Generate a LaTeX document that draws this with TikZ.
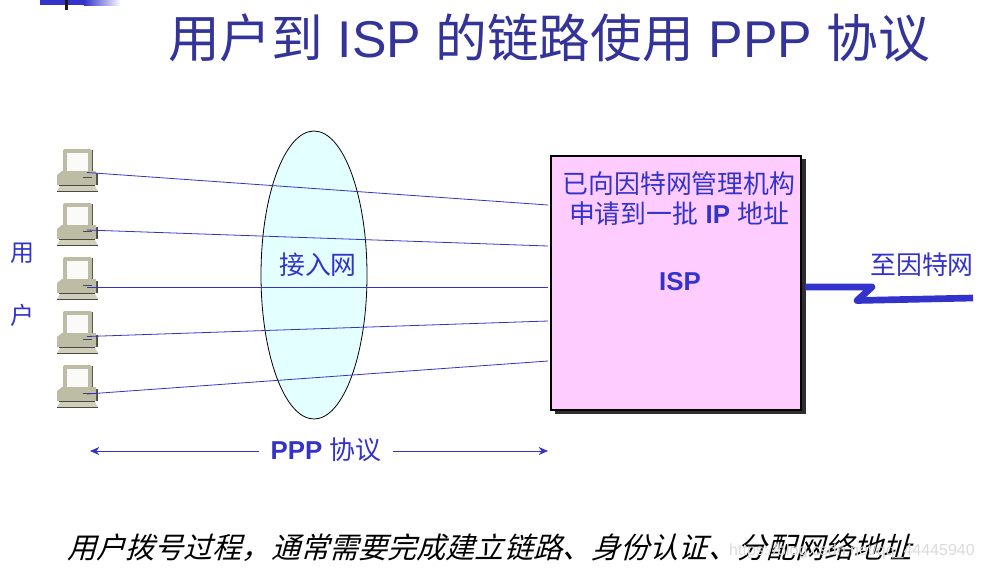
\documentclass[tikz,border=0pt]{standalone}
\usepackage{fontspec}
\setmainfont{Liberation Sans}
\newfontfamily\cjk{Noto Sans CJK SC}
\newfontfamily\cjkslant[FakeSlant=0.28]{Noto Sans CJK SC}
\usetikzlibrary{arrows.meta,shapes.geometric}
\definecolor{titleblue}{HTML}{333399}
\definecolor{labelblue}{HTML}{3333CC}
\definecolor{netcyan}{HTML}{E3FFFF}
\definecolor{isppink}{HTML}{FFCCFF}
\definecolor{pcbody}{HTML}{BDBDA5}
\definecolor{pclight}{HTML}{CFCFBB}
\definecolor{pcdark}{HTML}{4A4A40}
\definecolor{shadowgray}{HTML}{2E2E2E}
\tikzset{
  titletext/.style={font=\fontsize{38.8}{38.8}\selectfont,text=titleblue,inner sep=0pt},
  labeltext/.style={font=\fontsize{19.4}{23}\selectfont,text=labelblue,inner sep=0pt,align=center},
  notetext/.style={font=\fontsize{21.85}{22}\selectfont\cjkslant,text=black,inner sep=0pt},
  markwater/.style={font=\fontsize{12}{12}\selectfont,text=black!14,inner sep=0pt,anchor=east},
  link/.style={draw=labelblue,line width=0.6pt},
  rangearrow/.style={draw=labelblue,line width=0.6pt,-{Stealth[length=7pt,width=6pt]}},
}
\newcommand{\zh}[1]{{\cjk #1}}
% icon with its top-left reference at (#1,#2), in pixels; #3 names its port, #4 its height
\newcommand{\pcicon}[4]{%
  \begin{scope}[shift={(#1,#2)}]
    \fill[pcdark] (34.5,2) rectangle (36,25);
    \fill[pcbody,rounded corners=1.5pt] (6,25) -- (6,1) -- (35,1) -- (35,25) -- cycle;
    \fill[white!92!pcbody] (9.5,5) rectangle (30.5,24);
    \fill[pcdark] (39,25) rectangle (40.5,37);
    \fill[pcbody] (0,37) -- (0,27) -- (5,23) -- (39,23) -- (39,37) -- cycle;
    \draw[pcdark,line width=0.6pt] (26,29) -- (35,29);
    \fill[pcdark] (2,37) rectangle (38,38);
    \fill[pclight] (0,43) -- (3,38) -- (38,38) -- (41,43) -- cycle;
    \fill[pcdark] (0,43) rectangle (41,44);
  \end{scope}
  \coordinate (#3) at (#1+30,#2+#4);}
\begin{document}
\begin{tikzpicture}[x=0.75pt,y=-0.75pt]
\useasboundingbox (0,0) rectangle (984,569);
\fill[white] (0,0) rectangle (984,569);
% corner ornament
\fill[labelblue] (40,0) rectangle (84,5);
\shade[left color=labelblue,right color=white] (84,0) rectangle (121,5);
\fill[black!90] (65,0) rectangle (68,10);
% title
\node[titletext] (title) at (549,38) {\zh{用户到} ISP \zh{的链路使用} PPP \zh{协议}};
% access network
\node[draw=black,line width=0.6pt,fill=netcyan,ellipse,inner sep=0pt,minimum width=79.5pt,minimum height=216pt] (net) at (314,275) {};
\node[labeltext] (netlabel) at (318,265) {\zh{接入网}};
% ISP box
\fill[shadowgray] (555,159) rectangle (805.5,414);
\node[draw=black,line width=2pt,fill=isppink,rectangle,inner sep=0pt,minimum width=187.5pt,minimum height=190.5pt] (isp) at (676,283) {};
\node[labeltext] (ispnote) at (679,198.5) {\zh{已向因特网管理机构}\\\zh{申请到一批} \textbf{IP} \zh{地址}};
\node[labeltext,font=\fontsize{19.4}{23}\selectfont\bfseries] (isplabel) at (680,282) {ISP};
% computers
\pcicon{57}{148}{pca}{24.5}
\pcicon{57}{202}{pcb}{28}
\pcicon{57}{256}{pcc}{31}
\pcicon{57}{310}{pcd}{26.5}
\pcicon{57}{364}{pce}{30}
\node[labeltext,font=\fontsize{18}{18}\selectfont] (usera) at (22,253) {\zh{用}};
\node[labeltext,font=\fontsize{18}{18}\selectfont] (userb) at (22,315) {\zh{户}};
% links
\coordinate (ia) at (548,205);
\coordinate (ib) at (548,246);
\coordinate (ic) at (548,287);
\coordinate (id) at (548,321);
\coordinate (ie) at (548,361);
\draw[link] (pca) -- (ia);
\draw[link] (pcb) -- (ib);
\draw[link] (pcc) -- (ic);
\draw[link] (pcd) -- (id);
\draw[link] (pce) -- (ie);
% PPP range
\node[labeltext] (ppp) at (326,450) {\textbf{PPP} \zh{协议}};
\coordinate (pppl) at (90,451);
\coordinate (pppr) at (548,451);
\draw[rangearrow] ([xshift=-8.25pt]ppp.west) ++(0,-0.75pt) -- (pppl);
\draw[rangearrow] ([xshift=8.25pt]ppp.east) ++(0,-0.75pt) -- (pppr);
% uplink
\coordinate (upa) at (872,287);
\coordinate (upb) at (857,300.5);
\coordinate (upc) at (973,298);
\draw[draw=labelblue,line width=5pt,line join=round] (isp.east |- upa) ++(3,0) -- (upa) -- (upb) -- (upc);
\node[labeltext] (uplabel) at (922,265) {\zh{至因特网}};
% note
\node[notetext] (note) at (489.5,547.5) {用户拨号过程，通常需要完成建立链路、身份认证、分配网络地址};
\node[markwater] (mark) at (975,551) {https://blog.csdn.net/qq\_44445940};
\end{tikzpicture}
\end{document}
